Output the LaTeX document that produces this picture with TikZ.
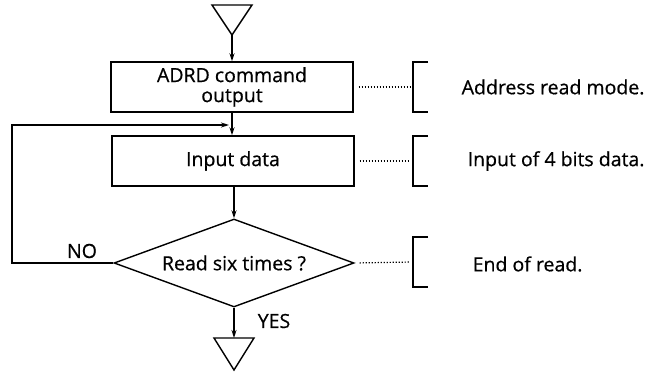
\documentclass[tikz,border=0pt]{standalone}
\usepackage{fontspec}
\setmainfont{Open Sans}[FakeBold=0.6]
\usepackage{tikz}
\usetikzlibrary{positioning, shapes.geometric, arrows.meta}
\tikzstyle{flowChart} = [x = 1pt, y = -1pt, line width = 1.4pt, every node/.style={font=\fontsize{19.5}{20}\selectfont}]
\tikzstyle{flowBox} = [draw, rectangle, minimum width = 242pt, minimum height = 50pt, inner sep = 0pt, align = center]
\tikzstyle{decisionStyle} = [draw, diamond, aspect = 2.73, minimum width = 240pt, minimum height = 88pt, inner sep = 0pt]
\tikzstyle{flowLine} = [-{Stealth[length = 8pt, width = 5pt]}]
\tikzstyle{dotLink} = [dash pattern = on 1.2pt off 1.8pt, line width = 1.2pt, shorten < = 5pt, shorten > = 3pt]
\tikzstyle{noteText} = [anchor = west, inner sep = 0pt]
\newcommand{\noteBracket}[3]{\coordinate (#1) at (413, #2); \draw (#1) ++(15, -#3) -- ++(-15, 0) -- ++(0, 2 * #3) -- ++(15, 0);}
\newcommand{\flowTriangle}[2]{\draw (#1) -- ++(-20, #2) -- ++(40, 0) -- cycle;}

\begin{document}
\begin{tikzpicture}[flowChart]
        \useasboundingbox (0, 0) rectangle (657, 374);
        % start mark
        \coordinate (startTip) at (232, 35);
        \flowTriangle{startTip}{-30}

        \node [flowBox] (adrdBox) at (232, 87) {ADRD command\\output};
        \node [flowBox] (inputBox) at (233, 161) {Input data};
        \node [decisionStyle] (readDecision) at (234, 263) {Read six times ?};

        % end mark
        \coordinate (endTop) at (234, 338);
        \coordinate (endTip) at (234, 370);
        \flowTriangle{endTip}{-32}

        \draw [flowLine] (startTip) -- (adrdBox.north -| startTip);
        \draw [flowLine] (adrdBox.south -| startTip) -- (inputBox.north -| startTip);
        \draw [flowLine] (inputBox.south -| readDecision) -- (readDecision.north);
        \draw [flowLine] (readDecision.south) -- (endTop);

        % loop back
        \coordinate (loopCorner) at (12, 263);
        \coordinate (loopJoin) at (229, 125);
        \draw [flowLine] (readDecision.west) -- (loopCorner) |- (loopJoin);
        \node (noLabel) at (82, 251) {NO};
        \node (yesLabel) at (274, 321) {YES};

        % notes
        \noteBracket{adrdNote}{87}{25}
        \noteBracket{inputNote}{161}{25}
        \noteBracket{readNote}{262}{25}
        \draw [dotLink] (adrdBox.east) -- (adrdNote);
        \draw [dotLink] (inputBox.east) -- (inputNote);
        \draw [dotLink] (readDecision.east) -- (readNote);
        \node [noteText] (adrdText) at (461, 87) {Address read mode.};
        \node [noteText] (inputText) at (467, 161) {Input of 4 bits data.};
        \node [noteText] (readText) at (472, 264) {End of read.};
\end{tikzpicture}
\end{document}
